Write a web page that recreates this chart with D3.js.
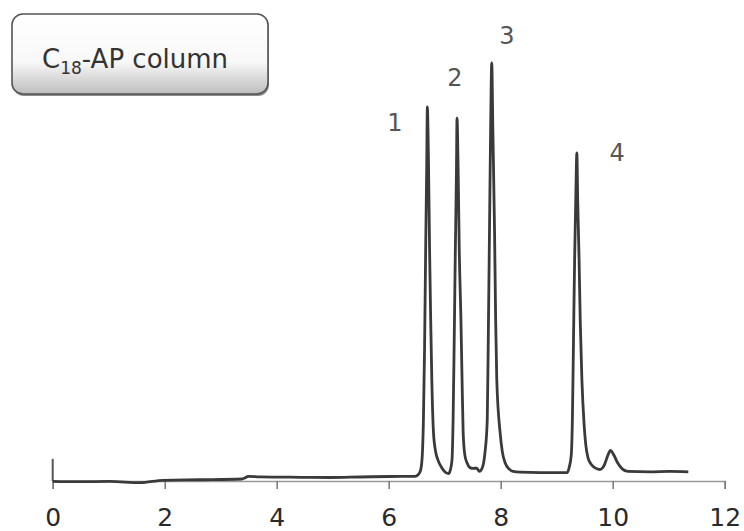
<!DOCTYPE html>
<html>
<head>
<meta charset="utf-8">
<script src="https://cdn.jsdelivr.net/npm/d3@7"></script>
<style>
  html, body { margin: 0; padding: 0; background: #fff; }
  svg { display: block; }
</style>
</head>
<body>
<svg id="chart" width="744" height="531"></svg>
<script>
// retention time (min) and detector signal
var times = [0, 0.4, 1.02, 1.56, 1.97, 2.63, 3.38, 3.43, 3.49, 3.70, 4.42, 4.95, 5.49, 6.02, 6.47,
  6.53, 6.57, 6.60, 6.62, 6.64, 6.66, 6.68, 6.69, 6.71, 6.73, 6.75, 6.77, 6.80, 6.84, 6.88, 6.95, 7.02, 7.07, 7.10,
  7.13, 7.15, 7.17, 7.19, 7.21, 7.22, 7.24, 7.26, 7.29, 7.31, 7.33, 7.36, 7.40, 7.45, 7.51, 7.57, 7.62, 7.67,
  7.72, 7.76, 7.78, 7.80, 7.82, 7.84, 7.86, 7.89, 7.91, 7.93, 7.99, 8.03, 8.08, 8.15, 8.22, 8.35, 8.70, 9.19,
  9.22, 9.26, 9.28, 9.30, 9.32, 9.34, 9.36, 9.375, 9.40, 9.42, 9.45, 9.49, 9.52, 9.56, 9.61, 9.68, 9.77,
  9.85, 9.91, 9.96, 10.02, 10.09, 10.17, 10.27, 10.66, 11.02, 11.35];
var signal = [-0.1, -0.17, -0.1, -0.4, 0.17, 0.3, 0.48, 0.72, 1.12, 1.0, 0.89, 0.84, 0.96, 1.08, 1.12,
  1.55, 2.6, 6.2, 14.6, 31.3, 55.3, 76.8, 89.5, 76.8, 55.3, 38.5, 24.2, 11.5, 6.9, 5.0, 3.1, 2.0, 1.8, 2.6,
  5.0, 14.6, 33.7, 55.3, 74.4, 86.8, 74.4, 55.3, 38.5, 24.2, 11.5, 6.2, 4.3, 3.2, 3.0, 3.1, 2.3, 3.1,
  6.9, 14.6, 36.1, 60.0, 84.0, 100, 84.0, 60.0, 38.5, 24.2, 11.5, 6.9, 4.3, 2.9, 2.3, 2.1, 2.0, 2.0,
  3.1, 6.2, 14.6, 33.7, 52.9, 67.2, 78.5, 67.2, 52.9, 38.5, 24.2, 13.4, 8.6, 5.5, 4.1, 3.2, 2.75,
  3.8, 6.0, 7.3, 6.2, 4.3, 2.9, 2.3, 2.2, 2.3, 2.2];

var xTicks = [0, 2, 4, 6, 8, 10, 12];

// peak numbers and where they sit
var peakLabels = ['1', '2', '3', '4'];
var peakLabelTime = [6.11, 7.18, 8.11, 10.08];
var peakLabelSignal = [83.7, 94.5, 104.5, 76.6];

var title = 'C';
var titleSub = '18';
var titleRest = '-AP column';

var svg = d3.select('#chart');

var x = d3.scaleLinear().domain([0, 12]).range([52.7, 724.7]);
var y = d3.scaleLinear().domain([0, 100]).range([481, 63]);

// x axis
var xAxis = svg.append('g')
    .attr('transform', 'translate(0,' + y(0) + ')')
    .call(d3.axisBottom(x).tickValues(xTicks).tickSize(8).tickPadding(19).tickFormat(d3.format('d')));
xAxis.select('.domain').attr('stroke', '#999').attr('stroke-width', 1.5);
xAxis.selectAll('.tick line').attr('stroke', '#777').attr('stroke-width', 1.5);
xAxis.selectAll('.tick text')
    .attr('font-family', 'DejaVu Sans, Verdana, sans-serif')
    .attr('font-size', 25)
    .attr('fill', '#2a2a2a');

// short y axis stub
svg.append('line')
    .attr('x1', x(0)).attr('x2', x(0))
    .attr('y1', y(5.3)).attr('y2', y(0))
    .attr('stroke', '#555').attr('stroke-width', 2);

var points = times.map(function (t, i) { return [t, signal[i]]; });
var line = d3.line()
    .x(function (d) { return x(d[0]); })
    .y(function (d) { return y(d[1]); })
    .curve(d3.curveMonotoneX);

svg.append('path')
    .datum(points)
    .attr('d', line)
    .attr('fill', 'none')
    .attr('stroke', '#3a3a3a')
    .attr('stroke-width', 2.8)
    .attr('stroke-linejoin', 'round');

svg.selectAll('.peak-label').data(peakLabels).enter()
    .append('text')
    .attr('class', 'peak-label')
    .attr('x', function (d, i) { return x(peakLabelTime[i]); })
    .attr('y', function (d, i) { return y(peakLabelSignal[i]); })
    .attr('text-anchor', 'middle')
    .attr('font-family', 'DejaVu Sans, Verdana, sans-serif')
    .attr('font-size', 24)
    .attr('fill', '#555')
    .text(function (d) { return d; });

// title box
var defs = svg.append('defs');
var grad = defs.append('linearGradient').attr('id', 'boxFill').attr('x1', 0).attr('y1', 0).attr('x2', 0).attr('y2', 1);
grad.append('stop').attr('offset', '0%').attr('stop-color', '#ffffff');
grad.append('stop').attr('offset', '60%').attr('stop-color', '#f8f8f8');
grad.append('stop').attr('offset', '100%').attr('stop-color', '#bdbdbd');

svg.append('rect')
    .attr('x', 13).attr('y', 16).attr('width', 256).attr('height', 80)
    .attr('rx', 11).attr('ry', 11)
    .attr('fill', '#8a8a8a');
svg.append('rect')
    .attr('x', 12).attr('y', 14).attr('width', 256).attr('height', 80)
    .attr('rx', 11).attr('ry', 11)
    .attr('fill', 'url(#boxFill)')
    .attr('stroke', '#555')
    .attr('stroke-width', 1.6);

var t = svg.append('text')
    .attr('x', 42).attr('y', 68)
    .attr('font-family', 'DejaVu Sans, Verdana, sans-serif')
    .attr('font-size', 26)
    .attr('fill', '#333');
t.append('tspan').text(title);
t.append('tspan').attr('font-size', 17).attr('dy', 6).text(titleSub);
t.append('tspan').attr('dy', -6).text(titleRest);
</script>
</body>
</html>
